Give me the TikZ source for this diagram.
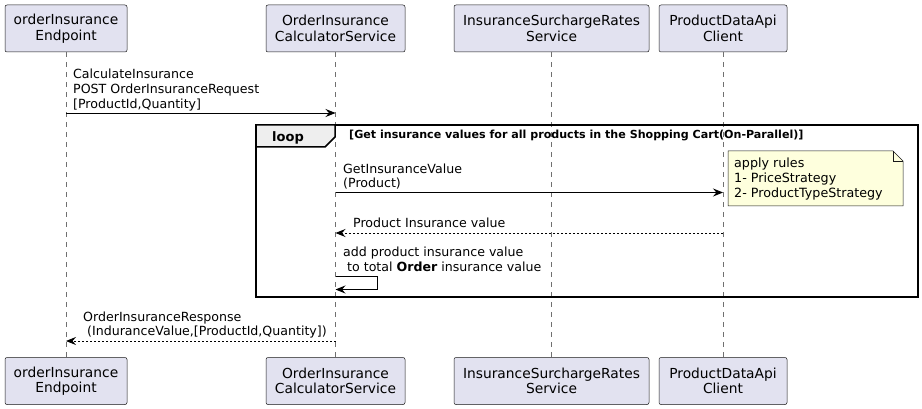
\documentclass[tikz,border=0pt]{standalone}
\usepackage{fontspec}
\setmainfont{DejaVu Sans}
\usetikzlibrary{arrows.meta}
\definecolor{partfill}{HTML}{E2E2F0}
\definecolor{partdraw}{HTML}{181818}
\definecolor{notefill}{HTML}{FEFFDD}
\definecolor{tabfill}{HTML}{EEEEEE}
\definecolor{lifegray}{HTML}{707070}
\begin{document}
\begin{tikzpicture}[x=1pt,y=-1pt,
  part/.style={draw=partdraw, line width=0.5pt, fill=partfill, rounded corners=2pt,
    align=center, font=\fontsize{13.8}{15.5}\selectfont, inner sep=0pt, minimum height=47pt},
  life/.style={draw=lifegray, line width=0.6pt, dash pattern=on 5pt off 5pt},
  msg/.style={draw=black, line width=0.9pt, -{Stealth[length=10pt,width=8pt,inset=3.5pt]}},
  ret/.style={msg, dash pattern=on 2pt off 2pt},
  lbl/.style={anchor=base west, inner sep=0pt, font=\fontsize{12.6}{15}\selectfont},
  notetxt/.style={anchor=base west, inner sep=0pt, font=\fontsize{12.7}{15}\selectfont},
  cond/.style={anchor=base west, inner sep=0pt, font=\fontsize{11.1}{13}\selectfont\bfseries},
  frame/.style={draw=black, line width=1.5pt},
  notebox/.style={draw=partdraw, line width=0.5pt, fill=notefill}
]
\useasboundingbox (0,0) rectangle (922,409);
\fill[white] (0,0) rectangle (922,409);

% participants (top)
\node[part, minimum width=122pt] (e1) at (66,28.5) {orderInsurance\\Endpoint};
\node[part, minimum width=139pt] (e2) at (335.5,28.5) {OrderInsurance\\CalculatorService};
\node[part, minimum width=195pt] (e3) at (551.5,28.5) {InsuranceSurchargeRates\\Service};
\node[part, minimum width=128pt] (e4) at (723,28.5) {ProductDataApi\\Client};
% participants (bottom)
\node[part, minimum width=122pt] (f1) at (66,381) {orderInsurance\\Endpoint};
\node[part, minimum width=139pt] (f2) at (335.5,381) {OrderInsurance\\CalculatorService};
\node[part, minimum width=195pt] (f3) at (551.5,381) {InsuranceSurchargeRates\\Service};
\node[part, minimum width=128pt] (f4) at (723,381) {ProductDataApi\\Client};

% lifelines
\draw[life] (e1.south) -- (f1.north);
\draw[life] (e2.south) -- (f2.north);
\draw[life] (e3.south) -- (f3.north);
\draw[life] (e4.south) -- (f4.north);

% message 1
\node[lbl] (t1a) at (73,79) {CalculateInsurance};
\node[lbl] (t1b) at (73,94) {POST OrderInsuranceRequest};
\node[lbl] (t1c) at (73,108.5) {[ProductId,Quantity]};
\coordinate (m1s) at (66,113);
\coordinate (m1e) at (335.5,113);
\draw[msg] (m1s) -- (m1e);

% loop frame
\draw[frame] (256,125) rectangle (918,297);
\filldraw[frame, fill=tabfill] (256,125) -- (335,125) -- (335,137) -- (325,147) -- (256,147) -- cycle;
\node[anchor=base, inner sep=0pt, font=\fontsize{13}{15}\selectfont\bfseries] (looplbl) at (288,141.5) {loop};
\node[cond] (loopcond) at (349,139) {[Get insurance values for all products in the Shopping Cart(On-Parallel)]};

% message 2
\node[lbl] (t2a) at (343,173.5) {GetInsuranceValue};
\node[lbl] (t2b) at (343,188) {(Product)};
\coordinate (m2s) at (335.5,192.5);
\coordinate (m2e) at (723,192.5);
\draw[msg] (m2s) -- (m2e);

% note
\filldraw[notebox] (728,151) -- (893,151) -- (903,161) -- (903,206) -- (728,206) -- cycle;
\draw[notebox, fill=none] (893,151) -- (893,161) -- (903,161);
\node[notetxt] (n1) at (734,167.7) {apply rules};
\node[notetxt] (n2) at (734,182.4) {1- PriceStrategy};
\node[notetxt] (n3) at (734,197) {2- ProductTypeStrategy};

% message 3
\node[lbl] (t3) at (353,227.5) {Product Insurance value};
\coordinate (m3s) at (723,233);
\coordinate (m3e) at (335.5,233);
\draw[ret] (m3s) -- (m3e);

% message 4 (self)
\node[lbl] (t4a) at (343,257) {add product insurance value};
\node[lbl] (t4b) at (347,271.5) {to total \textbf{Order} insurance value};
\coordinate (m4s) at (335.5,276.5);
\coordinate (m4e) at (335.5,289.5);
\draw[msg] (m4s) -- (377.5,276.5) -- (377.5,289.5) -- (m4e);

% message 5
\node[lbl] (t5a) at (83,321) {OrderInsuranceResponse};
\node[lbl] (t5b) at (87,335.5) {(InduranceValue,[ProductId,Quantity])};
\coordinate (m5s) at (335.5,341);
\coordinate (m5e) at (66,341);
\draw[ret] (m5s) -- (m5e);
\end{tikzpicture}
\end{document}
